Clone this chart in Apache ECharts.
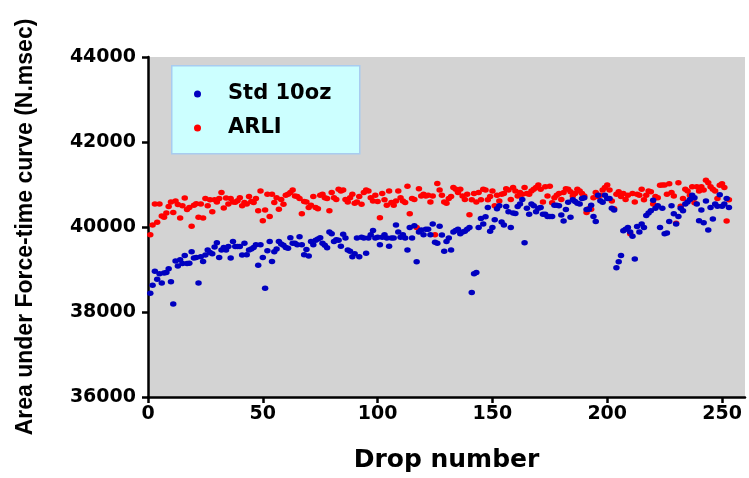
<!DOCTYPE html>
<html>
<head>
<meta charset="utf-8">
<script src="https://cdn.jsdelivr.net/npm/echarts@6/dist/echarts.min.js"></script>
<style>
html,body{margin:0;padding:0;background:#fff;}
#chart{width:749px;height:478px;}
</style>
</head>
<body>
<div id="chart"></div>
<script>
// Series names
const seriesNames = ['Std 10oz', 'ARLI'];

// Std 10oz values, drops 1..253
const std10oz = [
38440,38630,38960,38770,38900,38680,38920,38930,39020,38710,
38190,39200,39080,39230,39140,39330,39140,39150,39420,39270,
39280,38680,39300,39190,39340,39460,39400,39370,39530,39630,
39280,39460,39520,39460,39540,39270,39660,39540,39540,39540,
39340,39620,39350,39460,39480,39520,39580,39100,39580,39280,
38560,39440,39660,39190,39420,39480,39660,39600,39570,39520,
39500,39750,39620,39620,39580,39770,39580,39350,39470,39320,
39660,39580,39690,39720,39750,39620,39570,39510,39880,39840,
39660,39700,39690,39550,39830,39740,39460,39430,39300,39370,
39740,39300,39760,39740,39380,39740,39820,39920,39740,39760,
39580,39760,39820,39740,39550,39740,39740,40050,39880,39760,
39820,39740,39460,39990,39740,40030,39180,39880,39930,39820,
39950,39950,39820,40070,39640,39620,40020,39810,39430,39660,
39740,39460,39880,39920,39950,39840,39880,39900,39950,39990,
38460,38900,38930,39990,40200,40070,40240,40460,39900,39990,
40170,40430,40500,40120,40050,40480,40360,39990,40330,40320,
40480,40540,40650,39630,40440,40300,40540,40500,40360,40440,
40460,40300,40300,40250,40250,40250,40510,40510,40500,40280,
40140,40410,40580,40230,40640,40600,40560,40540,40670,40690,
40410,40420,40510,40250,40130,40750,40620,40580,40750,40670,
40670,40440,40400,39040,39180,39330,39910,39950,39990,39880,
39780,39250,40010,39880,40070,39990,40270,40330,40380,40630,
40440,40500,39990,40440,39840,39860,40130,40500,40310,40070,
40250,40440,40380,40540,40590,40650,40750,40690,40540,40150,
40400,40100,40610,39930,40460,40190,40540,40490,40760,40490,
40540,40670,40460
];

// ARLI values, drops 1..253
const arli = [
39820,40050,40540,40110,40540,40260,40230,40330,40480,40590,
40340,40610,40530,40210,40500,40680,40410,40460,40020,40510,
40550,40230,40540,40210,40670,40500,40640,40360,40640,40590,
40670,40810,40450,40680,40540,40670,40590,40580,40620,40690,
40500,40575,40540,40715,40600,40575,40670,40380,40850,40150,
40400,40770,40250,40770,40575,40690,40420,40650,40535,40745,
40770,40810,40870,40730,40720,40670,40310,40600,40590,40460,
40510,40720,40460,40430,40745,40770,40690,40670,40380,40810,
40690,40650,40890,40850,40870,40650,40590,40690,40770,40560,
40590,40720,40535,40810,40870,40850,40690,40610,40745,40600,
40220,40790,40640,40510,40850,40575,40510,40610,40850,40690,
40610,40575,40960,40310,40670,40650,39990,40900,40730,40770,
40730,40745,40590,40730,39820,41025,40870,40750,40590,40560,
40670,40720,40930,40890,40810,40890,40730,40650,40770,40290,
40640,40790,40590,40810,40640,40890,40870,40640,40720,40850,
40500,40745,40610,40770,40790,40900,40870,40650,40930,40850,
40730,40810,40770,40930,40790,40770,40850,40890,40930,40990,
40890,40590,40950,40730,40960,40570,40690,40745,40790,40650,
40810,40900,40890,40830,40730,40790,40890,40850,40790,40730,
40340,40430,40420,40690,40810,40720,40745,40870,40930,40990,
40870,40610,40430,40770,40830,40720,40790,40650,40750,39840,
40790,40590,40770,40750,40890,40640,40750,40850,40830,40540,
40720,40690,40980,40990,40990,40770,41020,40810,40730,40090,
41040,40490,40670,40890,40850,40750,40950,40570,40950,40850,
40950,40870,41100,41040,40950,40890,40850,40670,40980,41020,
40930,40140,40640
];

// Tick labels
const xTicks = [0, 50, 100, 150, 200, 250];
const yTicks = [36000, 38000, 40000, 42000, 44000];

const toPoints = arr => arr.map((v, i) => [i + 1, v]);

const chart = echarts.init(document.getElementById('chart'), null, {renderer: 'canvas'});

const tickFont = {fontFamily: 'DejaVu Sans', fontWeight: 'bold', fontSize: 19, color: '#000'};

chart.setOption({
  animation: false,
  backgroundColor: '#fff',
  grid: {
    left: 148, right: 4, top: 57, bottom: 79,
    show: true, backgroundColor: '#d3d3d3', borderWidth: 0
  },
  graphic: [{
    type: 'rect', left: 171, top: 65, z: 5,
    shape: {width: 188, height: 88},
    style: {fill: '#ccffff', stroke: '#a8ccf0', lineWidth: 1.5}
  }],
  legend: {
    data: seriesNames,
    orient: 'vertical',
    left: 189, top: 78,
    z: 10,
    itemWidth: 7, itemHeight: 7, itemGap: 12,
    icon: 'circle',
    textStyle: {fontFamily: 'DejaVu Sans', fontWeight: 'bold', fontSize: 21, color: '#000', padding: [0, 0, 0, 22], lineHeight: 22}
  },
  xAxis: {
    type: 'value', min: 0, max: 260, interval: 50,
    name: 'Drop number', nameLocation: 'middle', nameGap: 51,
    nameTextStyle: {fontFamily: 'DejaVu Sans', fontWeight: 'bold', fontSize: 25, color: '#000'},
    axisLine: {onZero: false, lineStyle: {color: '#000', width: 2.5}},
    axisTick: {show: true, length: 6, lineStyle: {color: '#000', width: 2.5}, customValues: xTicks},
    axisLabel: Object.assign({margin: 8, customValues: xTicks, formatter: v => String(v)}, tickFont),
    splitLine: {show: false}
  },
  yAxis: {
    type: 'value', min: 36000, max: 44000, interval: 2000,
    name: 'Area under Force-time curve (N.msec)', nameLocation: 'middle', nameGap: 111,
    nameTextStyle: {fontFamily: 'Liberation Sans', fontWeight: 'bold', fontSize: 23, color: '#000'},
    axisLine: {show: true, onZero: false, lineStyle: {color: '#000', width: 2.5}},
    axisTick: {show: true, length: 6, lineStyle: {color: '#000', width: 2.5}, customValues: yTicks},
    axisLabel: Object.assign({margin: 12, customValues: yTicks, formatter: v => String(v)}, tickFont),
    splitLine: {show: false}
  },
  series: [
    {
      name: 'ARLI', type: 'scatter', data: toPoints(arli),
      symbol: 'circle', symbolSize: [6.5, 5.5],
      itemStyle: {color: '#ff0000', opacity: 1}
    },
    {
      name: 'Std 10oz', type: 'scatter', data: toPoints(std10oz),
      symbol: 'circle', symbolSize: [6.5, 5.5],
      itemStyle: {color: '#0000c0', opacity: 1}
    }
  ]
});
</script>
</body>
</html>
